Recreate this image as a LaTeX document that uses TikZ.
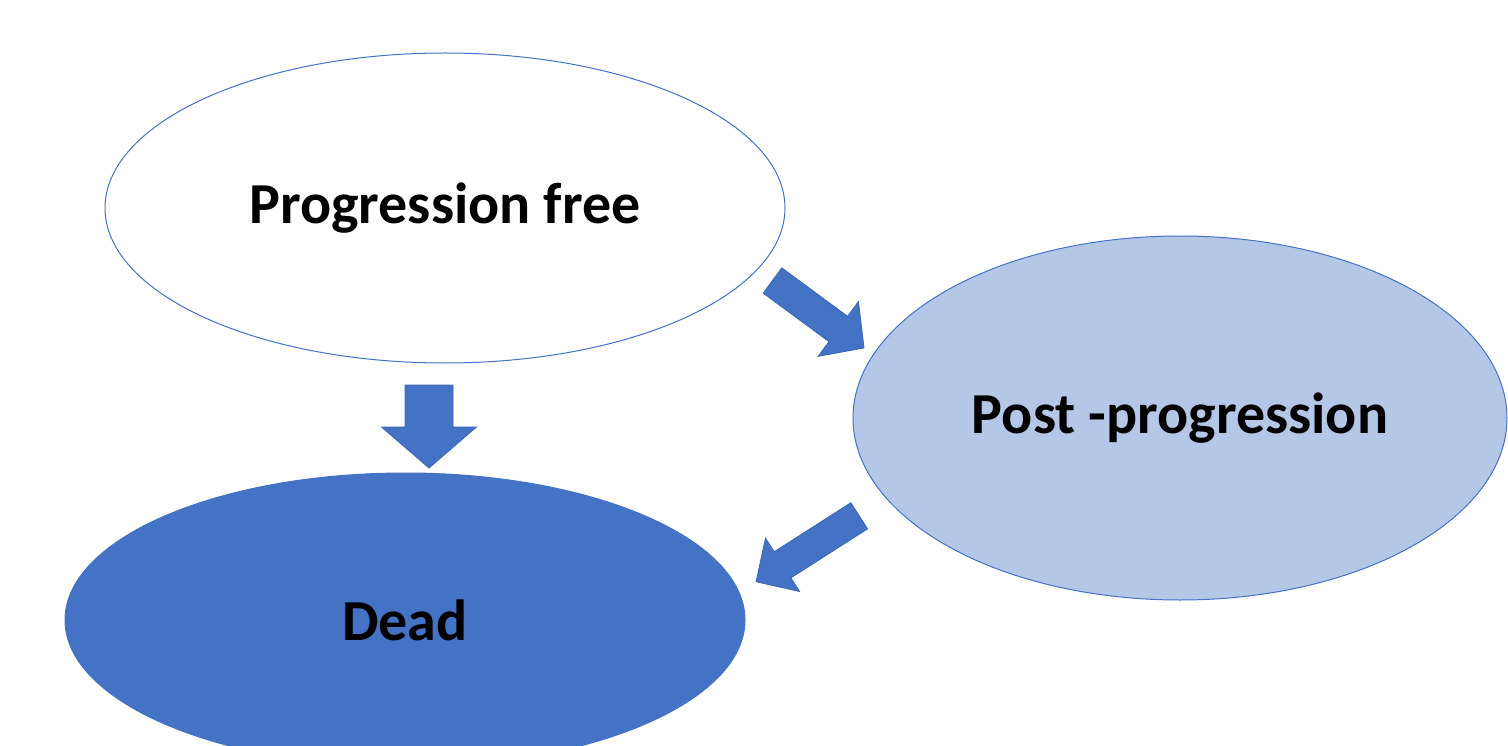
\documentclass[tikz,border=0pt]{standalone}
\usepackage{fontspec}
\setmainfont{Carlito}
\usetikzlibrary{shapes.geometric}
\definecolor{accent}{HTML}{4472C4}
\definecolor{accentlight}{HTML}{B4C7E7}
\definecolor{accentdark}{HTML}{3A66B5}
\tikzset{
  state/.style={ellipse, draw=accent, line width=1pt, inner sep=0pt,
    font=\bfseries\fontsize{58}{64}\selectfont, text=black},
  blockarrow/.style={fill=accent, draw=accentdark, line width=0.8pt, line join=miter}
}
% #1 tail point, #2 angle, #3 length, #4 head base distance, #5 shaft width, #6 head width
\newcommand{\myblockarrow}[6]{%
  \begin{scope}[shift={#1}, rotate=#2]
    \path[blockarrow] (0,-#5/2) -- (#4,-#5/2) -- (#4,-#6/2) -- (#3,0)
      -- (#4,#6/2) -- (#4,#5/2) -- (0,#5/2) -- cycle;
  \end{scope}}
\begin{document}
\begin{tikzpicture}[x=1pt,y=-1pt]
\useasboundingbox (0,0) rectangle (1508,746);
\clip (0,0) rectangle (1508,746);
\fill[white] (0,0) rectangle (1508,746);
\node[state, fill=white, minimum width=680pt, minimum height=310pt] (pf) at (445,208) {Progression free};
\node[state, fill=accentlight, minimum width=654pt, minimum height=364pt] (pp) at (1180,418) {Post -progression};
\node[state, fill=accent, minimum width=680pt, minimum height=294pt] (dead) at (405,620) {Dead};
\myblockarrow{(772.5,280.5)}{-36.4}{113.7}{81.7}{31.4}{68}
\myblockarrow{(429,385)}{-90}{83}{42}{48}{95}
\myblockarrow{(859.2,515.8)}{-147.4}{122.4}{91}{31}{63.4}
\end{tikzpicture}
\end{document}
